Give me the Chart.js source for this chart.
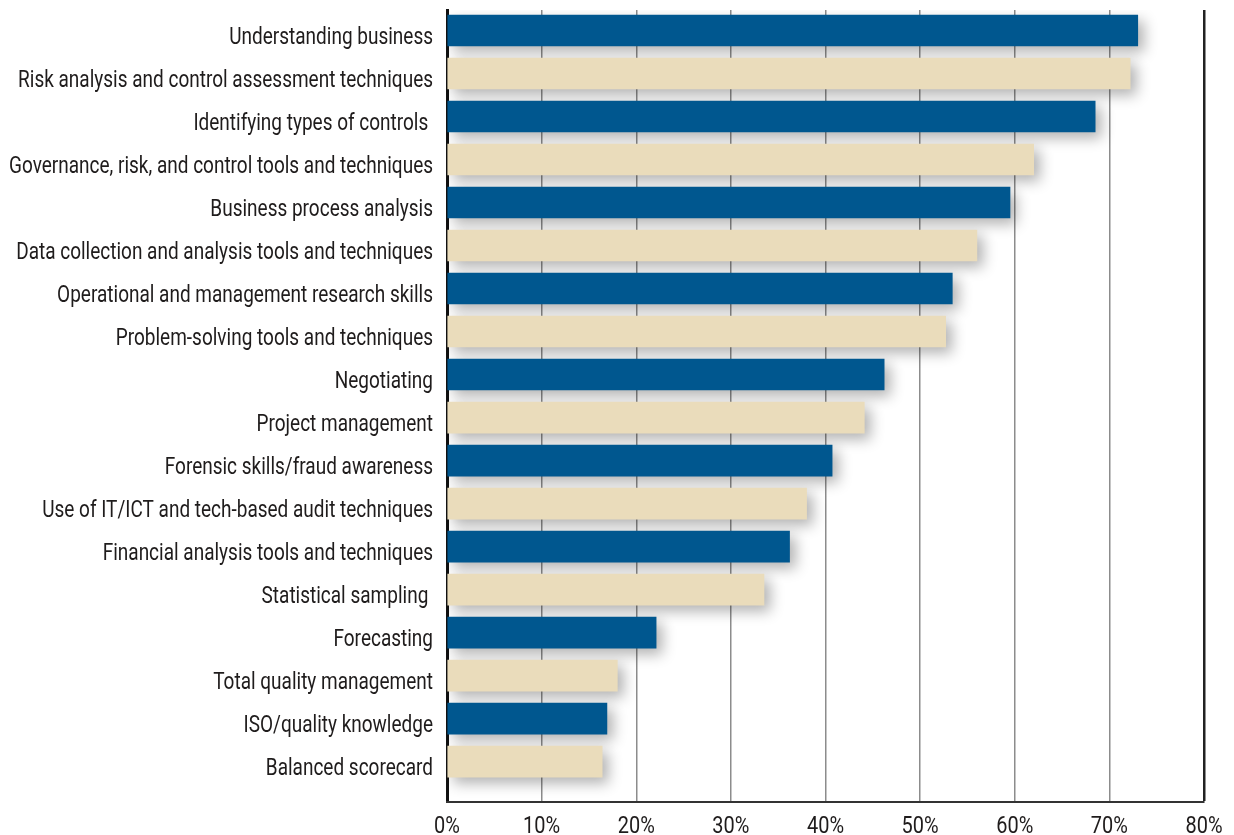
<!DOCTYPE html>
<html>
<head>
<meta charset="utf-8">
<script src="https://cdn.jsdelivr.net/npm/chart.js@4/dist/chart.umd.min.js"></script>
<style>
  html, body { margin: 0; padding: 0; background: #fff; }
  #wrap { width: 1234px; height: 835px; }
</style>
</head>
<body>
<div id="wrap"><canvas id="skills" width="1234" height="835"></canvas></div>
<script>
// skills, top to bottom
const categories = [
    'Understanding business',
    'Risk analysis and control assessment techniques',
    'Identifying types of controls ',
    'Governance, risk, and control tools and techniques',
    'Business process analysis',
    'Data collection and analysis tools and techniques',
    'Operational and management research skills',
    'Problem-solving tools and techniques',
    'Negotiating',
    'Project management',
    'Forensic skills/fraud awareness',
    'Use of IT/ICT and tech-based audit techniques',
    'Financial analysis tools and techniques',
    'Statistical sampling ',
    'Forecasting',
    'Total quality management',
    'ISO/quality knowledge',
    'Balanced scorecard'
];
const percents = [73.0, 72.2, 68.5, 62.0, 59.5, 56.0, 53.4, 52.7, 46.2, 44.1, 40.7, 38.0, 36.2, 33.5, 22.1, 18.0, 16.9, 16.4];
const xTicks = [0, 10, 20, 30, 40, 50, 60, 70, 80];

const BLUE = '#00578f';
const TAN = '#eadcbb';
const INK = '#1f1c1c';
const FONT = "Roboto, 'DejaVu Sans Condensed', sans-serif";
const LABEL_SPAN = 424;   // widest category label, px

// soft drop shadow under every bar
const barShadow = {
    id: 'barShadow',
    beforeDatasetsDraw(chart) {
        const ctx = chart.ctx;
        ctx.save();
        ctx.shadowColor = 'rgba(0, 0, 0, 0.3)';
        ctx.shadowBlur = 14;
        ctx.shadowOffsetX = 6;
        ctx.shadowOffsetY = 6;
    },
    afterDatasetsDraw(chart) {
        chart.ctx.restore();
    }
};

// condensed-looking labels: same font squeezed horizontally
const labelPainter = {
    id: 'labelPainter',
    afterDraw(chart) {
        const { ctx, scales: { x, y } } = chart;
        ctx.save();
        ctx.fillStyle = INK;
        ctx.font = '23px ' + FONT;
        const widest = Math.max(...categories.map(c => ctx.measureText(c).width));
        const squeeze = LABEL_SPAN / widest;

        ctx.textAlign = 'right';
        ctx.textBaseline = 'alphabetic';
        categories.forEach((name, i) => {
            ctx.save();
            ctx.translate(x.left - 14, y.getPixelForValue(i) + 13.5);
            ctx.scale(squeeze, 1);
            ctx.fillText(name, 0, 0);
            ctx.restore();
        });

        ctx.textAlign = 'center';
        xTicks.forEach(v => {
            ctx.save();
            ctx.translate(x.getPixelForValue(v), y.bottom + 31);
            ctx.scale(squeeze * 1.05, 1);
            ctx.fillText(v + '%', 0, 0);
            ctx.restore();
        });
        ctx.restore();
    }
};

new Chart(document.getElementById('skills'), {
    type: 'bar',
    data: {
        datasets: [{
            data: percents.map((v, i) => ({ x: v, y: i })),
            backgroundColor: percents.map((v, i) => i % 2 === 0 ? BLUE : TAN),
            borderWidth: 0,
            barThickness: 31
        }]
    },
    options: {
        indexAxis: 'y',
        responsive: false,
        animation: false,
        layout: { padding: { top: 10, right: 30, left: 0, bottom: 0 } },
        plugins: {
            legend: { display: false },
            tooltip: { enabled: false }
        },
        scales: {
            y: {
                type: 'linear',
                reverse: true,
                offset: false,
                bounds: 'data',
                min: -0.477,
                max: 17.94,
                afterBuildTicks: s => { s.ticks = categories.map((c, i) => ({ value: i })); },
                afterFit: s => { s.width = 447; },
                grid: { display: false, drawTicks: false },
                border: { display: true, color: '#111', width: 3 },
                ticks: { display: false }
            },
            x: {
                type: 'linear',
                min: 0,
                max: 80,
                afterBuildTicks: s => { s.ticks = xTicks.map(v => ({ value: v })); },
                afterFit: s => { s.height = 33; },
                grid: {
                    drawTicks: false,
                    color: c => c.tick && c.tick.value === 80 ? '#222' : '#8c8c8c',
                    lineWidth: c => c.tick && c.tick.value === 80 ? 2.5 : 1.5
                },
                border: { display: true, color: '#333', width: 2 },
                ticks: { display: false }
            }
        }
    },
    plugins: [barShadow, labelPainter]
});
</script>
</body>
</html>
